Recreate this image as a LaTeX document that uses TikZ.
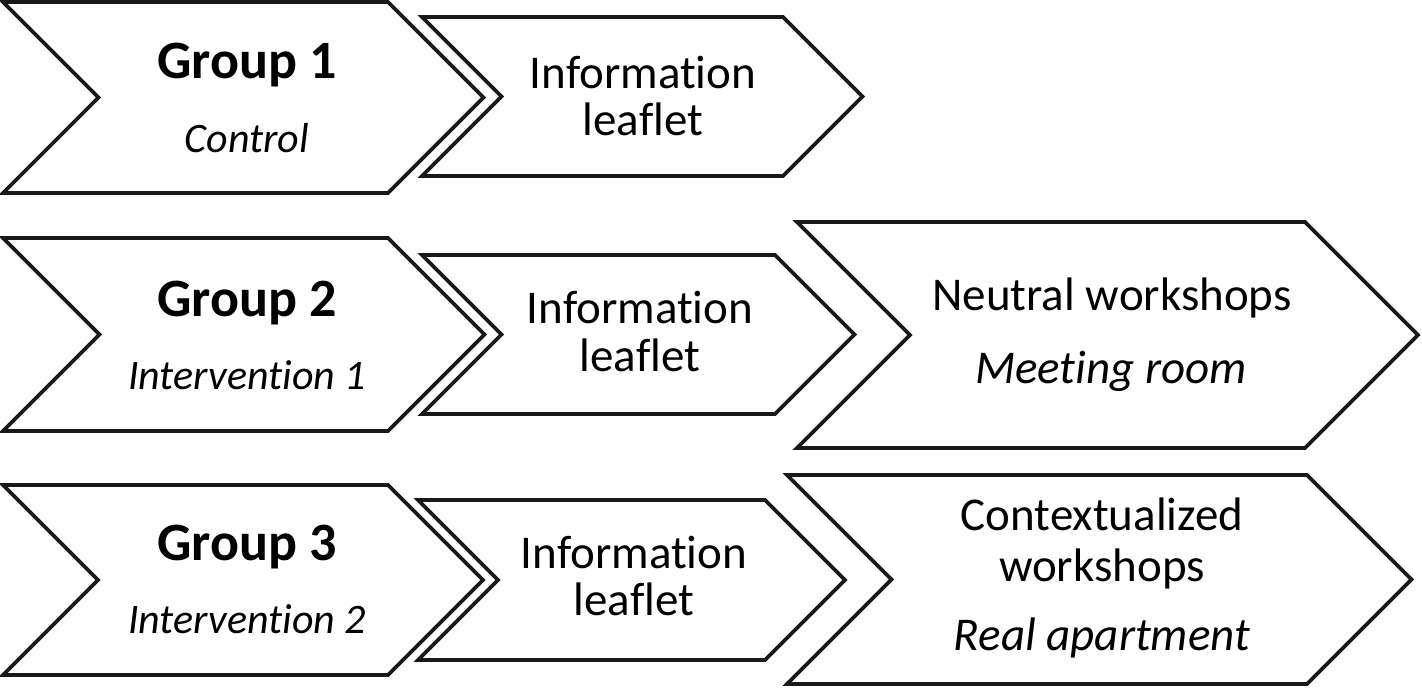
\documentclass[tikz,border=0pt]{standalone}
\usepackage{fontspec}
\setmainfont{Carlito}[Ligatures=NoCommon,RawFeature={-calt}]
\usetikzlibrary{positioning}
% chevron: left x, right corner x, centre y, half height
\newcommand\chevron[4]{%
  \draw[chevbox] (#1,{#3-#4}) -- (#2,{#3-#4}) -- ({#2+#4},#3) -- (#2,{#3+#4})
    -- (#1,{#3+#4}) -- ({#1+#4},#3) -- cycle;}
\tikzset{
  chevbox/.style={line width=1.9pt,line join=miter,draw=black!90,fill=white},
  grptext/.style={anchor=base,inner sep=0pt,font=\fontsize{27}{30}\selectfont\bfseries},
  subtext/.style={anchor=base,inner sep=0pt,font=\fontsize{21}{25}\selectfont\itshape},
  steptext/.style={anchor=base,inner sep=0pt,font=\fontsize{23.5}{28}\selectfont},
  placetext/.style={anchor=base,inner sep=0pt,font=\fontsize{23.5}{28}\selectfont\itshape},
}
\begin{document}
\begin{tikzpicture}[x=0.5pt,y=-0.5pt]
  \useasboundingbox (0,0) rectangle (1422,687);
  % row 1
  \chevron{422}{783}{96.5}{79.5}
  \chevron{3}{388}{97.5}{95.5}
  \node[grptext] (grp1) at (247,78) {Group 1};
  \node[subtext] (grp1sub) at (247,152) {Control};
  \node[steptext] (leaf1a) at (643,88) {Information};
  \node[steptext] (leaf1b) at (643,135) {leaflet};
  % row 2
  \chevron{797}{1305}{335}{113}
  \chevron{422}{775}{334.5}{79.5}
  \chevron{3}{388}{334.5}{96.5}
  \node[grptext] (grp2) at (247,316) {Group 2};
  \node[subtext] (grp2sub) at (247,389) {Intervention 1};
  \node[steptext] (leaf2a) at (640,323) {Information};
  \node[steptext] (leaf2b) at (640,371) {leaflet};
  \node[steptext] (work2) at (1112,310) {Neutral workshops};
  \node[placetext] (work2sub) at (1111,383) {Meeting room};
  % row 3
  \chevron{787}{1307}{579.5}{104.5}
  \chevron{418}{765}{580}{80}
  \chevron{3}{388}{580}{95}
  \node[grptext] (grp3) at (247,560) {Group 3};
  \node[subtext] (grp3sub) at (247,633) {Intervention 2};
  \node[steptext] (leaf3a) at (634,568) {Information};
  \node[steptext] (leaf3b) at (634,615) {leaflet};
  \node[steptext] (work3a) at (1102,530) {Contextualized};
  \node[steptext] (work3b) at (1102,581) {workshops};
  \node[placetext] (work3sub) at (1102,650) {Real apartment};
\end{tikzpicture}
\end{document}
